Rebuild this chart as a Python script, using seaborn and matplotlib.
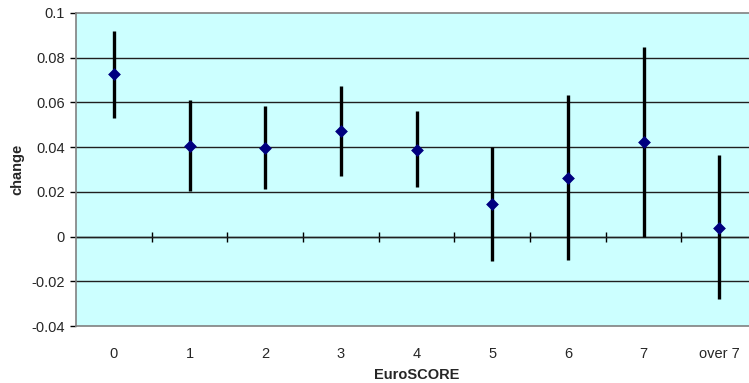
import matplotlib
matplotlib.use("Agg")
import matplotlib.pyplot as plt
import seaborn as sns
import pandas as pd

categories = ["0", "1", "2", "3", "4", "5", "6", "7", "over 7"]
change = [0.0725, 0.0405, 0.0398, 0.0472, 0.0389, 0.0146, 0.0264, 0.0421, 0.0039]
lower = [0.0532, 0.0203, 0.0211, 0.0271, 0.0221, -0.0108, -0.0105, -0.0004, -0.0280]
upper = [0.0919, 0.0609, 0.0583, 0.0672, 0.0560, 0.0401, 0.0632, 0.0847, 0.0364]
ytick_values = [-0.04, -0.02, 0, 0.02, 0.04, 0.06, 0.08, 0.1]
ytick_labels = ["-0.04", "-0.02", "0", "0.02", "0.04", "0.06", "0.08", "0.1"]

df = pd.DataFrame({"EuroSCORE": categories, "change": change,
                   "lower": lower, "upper": upper})

sns.set_theme(style="white")
plt.rcParams["font.family"] = ["Liberation Sans", "DejaVu Sans"]

FS = 10.5
W, H = 749, 383
fig = plt.figure(figsize=(W / 100, H / 100), dpi=100)
# plot box runs slightly past the right edge of the canvas
ax = fig.add_axes([76 / W, 57 / H, (757 - 76) / W, (326 - 13) / H])
ax.set_facecolor("#CCFFFF")

ymin, ymax = -0.04, 0.1
ax.set_ylim(ymin, ymax)
ax.set_xlim(-0.5, len(categories) - 0.5)

# horizontal gridlines
for v in ytick_values[1:-1]:
    ax.axhline(v, color="#202020", lw=1.0, zorder=1)

# confidence intervals
x = list(range(len(categories)))
ax.vlines(x, df["lower"], df["upper"], color="black", lw=2.4, zorder=2)

sns.scatterplot(data=df, x="EuroSCORE", y="change", marker="D", s=36,
                color="#000080", edgecolor="#000080", linewidth=0.5,
                ax=ax, zorder=3, legend=False)

ax.set_yticks(ytick_values)
ax.set_yticklabels(ytick_labels, fontsize=FS)
ax.tick_params(axis="y", length=4, width=1, color="black", pad=4, left=True)
ax.set_xticks(x)
ax.set_xticklabels(categories, fontsize=FS)
ax.tick_params(axis="x", length=0, pad=15)

for side in ["top", "left", "bottom"]:
    ax.spines[side].set_visible(True)
    ax.spines[side].set_color("#808080")
    ax.spines[side].set_linewidth(1.2)
ax.spines["right"].set_visible(False)

# category boundary ticks sitting on the zero line
zero_frac = (0 - ymin) / (ymax - ymin)
sec = ax.secondary_xaxis(zero_frac)
sec.set_xticks([i + 0.5 for i in range(len(categories) - 1)])
sec.set_xticklabels([])
sec.tick_params(direction="inout", length=7, width=1, color="black")
sec.spines["bottom"].set_color("black")
sec.spines["bottom"].set_linewidth(1.0)

ax.set_xlabel("EuroSCORE", fontsize=FS, fontweight="bold", labelpad=5)
ax.set_ylabel("change", fontsize=FS, fontweight="bold", labelpad=5)

fig.savefig("out.png", dpi=100)
